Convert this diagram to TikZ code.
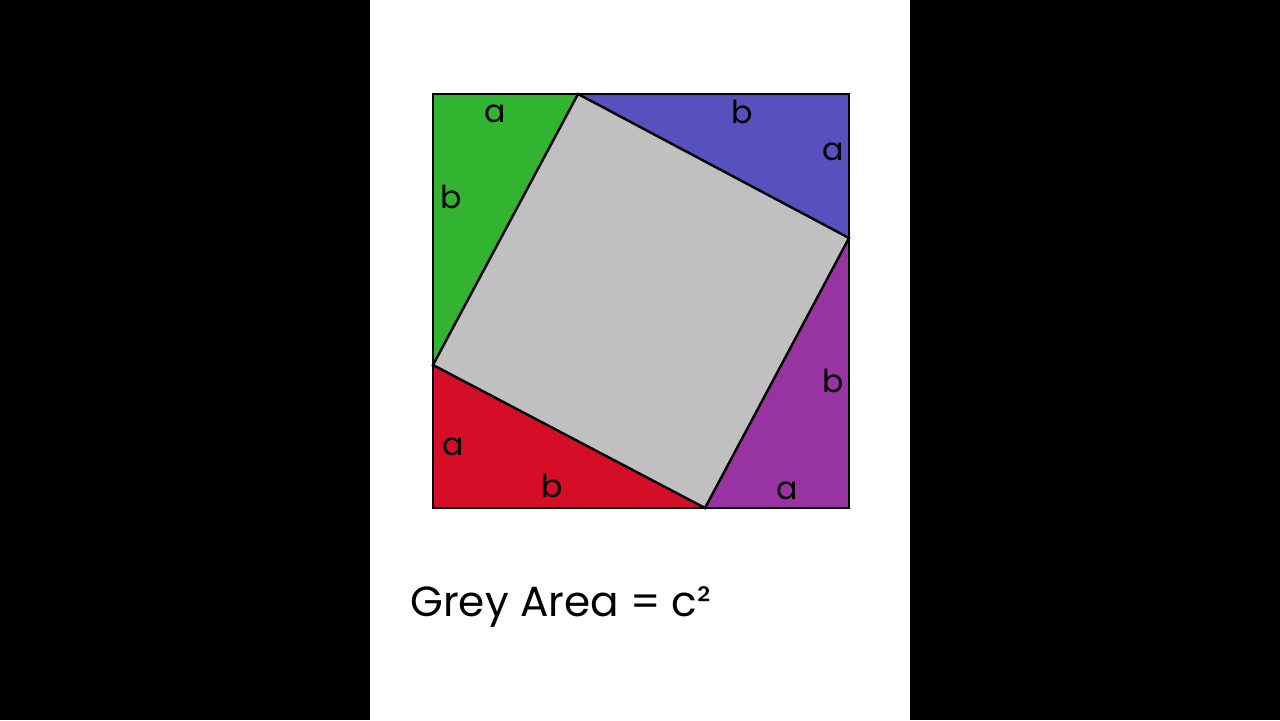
\documentclass[tikz,border=0pt]{standalone}
\usepackage{fontspec}
\setmainfont{Poppins}
\definecolor{triGreen}{RGB}{50,180,48}
\definecolor{triBlue}{RGB}{88,80,188}
\definecolor{triPurple}{RGB}{152,52,162}
\definecolor{triRed}{RGB}{212,14,38}
\definecolor{sqGrey}{RGB}{192,192,192}
\tikzset{
  side/.style = {anchor=base, inner sep=0pt, font=\fontsize{18}{18}\selectfont},
  edge/.style = {draw=black, line width=1.4pt, line join=miter}
}
\begin{document}
\begin{tikzpicture}[x = 0.02cm, y = -0.02cm]

\fill[black] (0,0) rectangle (1280,720);
\fill[white] (370,0) rectangle (910,720);

\coordinate (tl) at (433,94);
\coordinate (tr) at (849,94);
\coordinate (br) at (849,508);
\coordinate (bl) at (433,508);
\coordinate (top) at (578,94);
\coordinate (right) at (849,238);
\coordinate (bottom) at (705,508);
\coordinate (left) at (433,365);

\fill[sqGrey] (top) -- (right) -- (bottom) -- (left) -- cycle;
\fill[triGreen] (tl) -- (top) -- (left) -- cycle;
\fill[triBlue] (top) -- (tr) -- (right) -- cycle;
\fill[triPurple] (right) -- (br) -- (bottom) -- cycle;
\fill[triRed] (bottom) -- (bl) -- (left) -- cycle;

\draw[edge] (top) -- (right) -- (bottom) -- (left) -- cycle;
\draw[edge] (tl) rectangle (br);

\node[side] (ga) at (495,122) {a};
\node[side] (gb) at (451,208) {b};
\node[side] (bb) at (742,123) {b};
\node[side] (ba) at (833,160) {a};
\node[side] (pb) at (833,392) {b};
\node[side] (pa) at (787,499) {a};
\node[side] (ra) at (453,455) {a};
\node[side] (rb) at (552,497) {b};

\node[anchor=base west, inner sep=0pt, font=\fontsize{24}{24}\selectfont] (area) at (410,616) {Grey Area = c²};

\end{tikzpicture}
\end{document}
